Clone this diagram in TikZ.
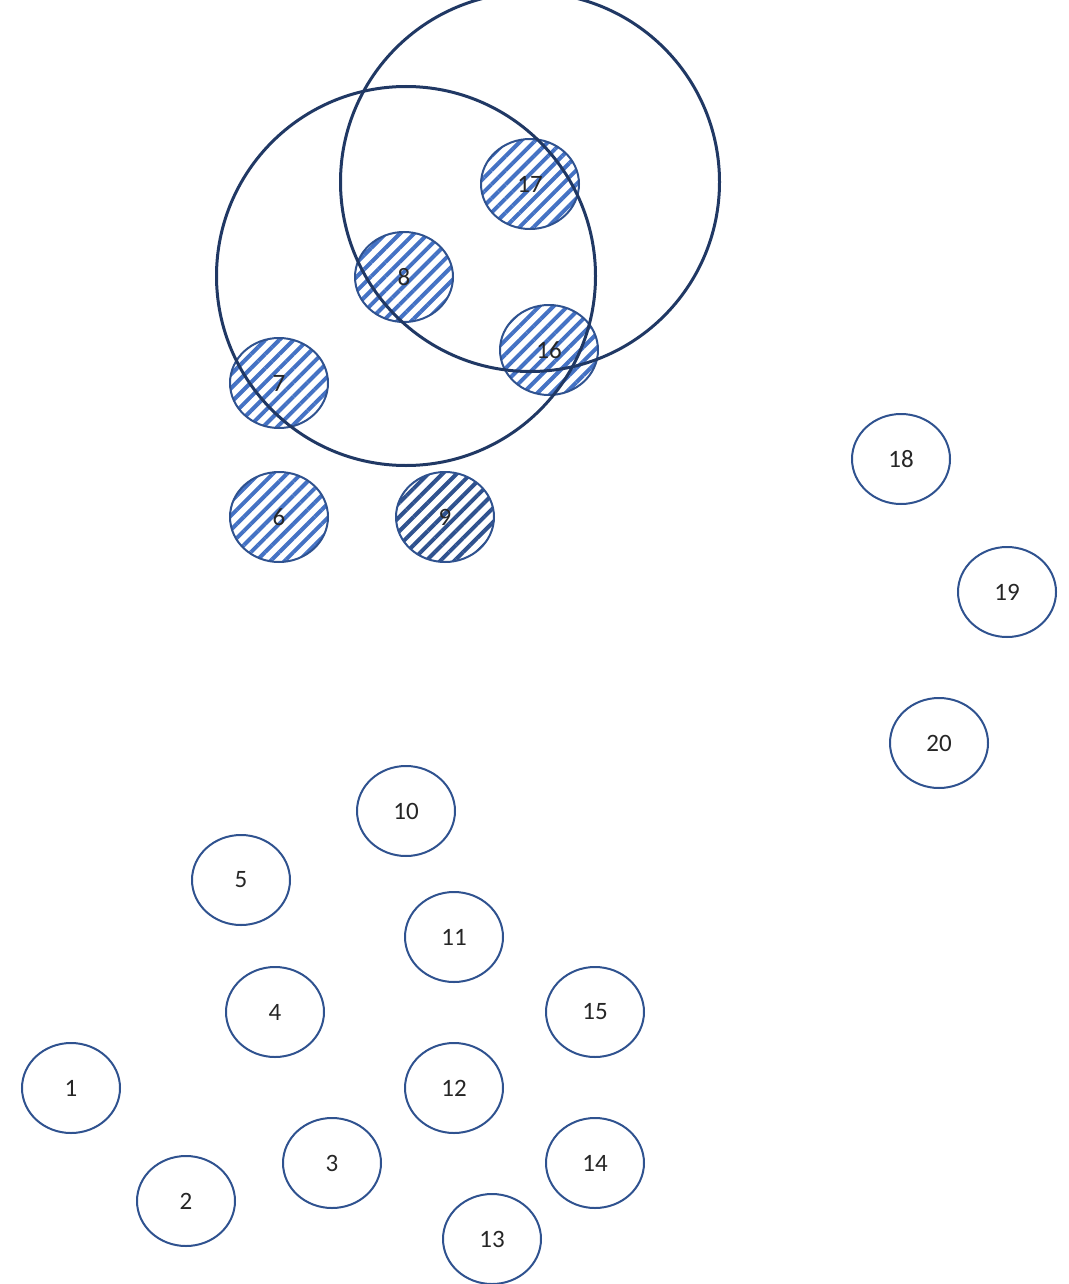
\documentclass[tikz,border=0pt]{standalone}
\usepackage{fontspec}
\setmainfont{Carlito}
\usetikzlibrary{patterns.meta,shapes.geometric}
\definecolor{nodeborder}{HTML}{2F528F}
\definecolor{hatchA}{HTML}{4472C4}
\definecolor{hatchB}{HTML}{2F528F}
\definecolor{bigc}{HTML}{203864}
\definecolor{txt}{HTML}{262626}
\tikzset{
  x=1pt,y=-1pt,
  vnode/.style={ellipse,draw=nodeborder,line width=2pt,minimum width=98pt,minimum height=90pt,inner sep=0pt,
    font=\fontsize{25}{30}\selectfont,text=txt},
  hatched/.style={vnode,pattern={Lines[angle=45,distance=10pt,line width=4pt]},pattern color=hatchA},
  hatcheddark/.style={vnode,pattern={Lines[angle=45,distance=10pt,line width=4pt]},pattern color=hatchB},
  bigcircle/.style={circle,draw=bigc,line width=3pt,minimum size=379pt,inner sep=0pt}
}
\begin{document}
\begin{tikzpicture}
\useasboundingbox (0,0) rectangle (1068,1284);
\node[vnode] (n1) at (71,1088) {1};
\node[vnode] (n2) at (186,1201) {2};
\node[vnode] (n3) at (332,1163) {3};
\node[vnode] (n4) at (275,1012) {4};
\node[vnode] (n5) at (241,880) {5};
\node[hatched] (n6) at (279,517) {6};
\node[hatched] (n7) at (279,383) {7};
\node[hatched] (n8) at (404,277) {8};
\node[hatcheddark] (n9) at (445,517) {9};
\node[vnode] (n10) at (406,811) {10};
\node[vnode] (n11) at (454,937) {11};
\node[vnode] (n12) at (454,1088) {12};
\node[vnode] (n13) at (492,1239) {13};
\node[vnode] (n14) at (595,1163) {14};
\node[vnode] (n15) at (595,1012) {15};
\node[hatched] (n16) at (549,350) {16};
\node[hatched] (n17) at (530,184) {17};
\node[vnode] (n18) at (901,459) {18};
\node[vnode] (n19) at (1007,592) {19};
\node[vnode] (n20) at (939,743) {20};
\node[bigcircle] (c1) at (406,276) {};
\node[bigcircle] (c2) at (530,182) {};
\end{tikzpicture}
\end{document}
